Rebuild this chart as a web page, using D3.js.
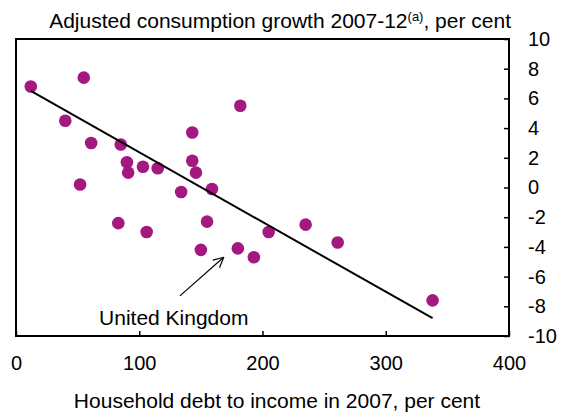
<!DOCTYPE html>
<html>
<head>
<meta charset="utf-8">
<script src="https://d3js.org/d3.v7.min.js"></script>
<style>
body { margin: 0; background: #fff; }
svg text { font-family: "Liberation Sans", Arial, sans-serif; fill: #000; }
.axis line { stroke: #000; stroke-width: 1.5px; }
.axis text { font-size: 20px; }
</style>
</head>
<body>
<svg width="561" height="412"></svg>
<script>
// household debt to income 2007 (per cent) vs adjusted consumption growth 2007-12 (per cent)
var debt   = [12, 55, 40, 61, 85, 143, 182, 90, 91, 103, 115, 143, 146, 159, 52, 134, 83, 155, 106, 205, 235, 261, 150, 180, 193, 338];
var growth = [6.8, 7.4, 4.5, 3.0, 2.9, 3.7, 5.5, 1.7, 1.0, 1.4, 1.3, 1.8, 1.0, -0.1, 0.2, -0.3, -2.4, -2.3, -3.0, -3.0, -2.5, -3.7, -4.2, -4.1, -4.7, -7.6];

// fitted line end points
var fitX = [12, 338];
var fitY = [6.5, -8.8];

var xTicks = [0, 100, 200, 300, 400];
var yTicks = [-10, -8, -6, -4, -2, 0, 2, 4, 6, 8, 10];

// United Kingdom note: arrow from label to point
var ukArrow = [[133, -7.3], [168.5, -4.7]];
var ukLabel = { x: 128, y: -9.25, text: "United Kingdom" };

var svg = d3.select("svg");

var x = d3.scaleLinear().domain([0, 400]).range([16, 509]);
var y = d3.scaleLinear().domain([-10, 10]).range([336, 39]);

// plain hyphen minus like the original
var fmt = function(d) { return String(d); };

svg.append("g")
	.attr("class", "axis")
	.attr("transform", "translate(0," + y(-10) + ")")
	.call(d3.axisBottom(x).tickValues(xTicks).tickFormat(fmt).tickSize(-5).tickPadding(20))
	.call(function(g) { g.select(".domain").remove(); });

svg.append("g")
	.attr("class", "axis")
	.attr("transform", "translate(" + x(400) + ",0)")
	.call(d3.axisRight(y).tickValues(yTicks).tickFormat(fmt).tickSize(-5).tickPadding(19))
	.call(function(g) { g.select(".domain").remove(); });

svg.append("rect")
	.attr("x", x(0))
	.attr("y", y(10))
	.attr("width", x(400) - x(0))
	.attr("height", y(-10) - y(10))
	.attr("fill", "none")
	.attr("stroke", "#000")
	.attr("stroke-width", 2);

var pts = debt.map(function(d, i) { return [d, growth[i]]; });

svg.append("g").selectAll("circle")
	.data(pts)
	.enter().append("circle")
	.attr("cx", function(d) { return x(d[0]); })
	.attr("cy", function(d) { return y(d[1]); })
	.attr("r", 6.3)
	.attr("fill", "#a3197f");

var line = d3.line()
	.x(function(d) { return x(d[0]); })
	.y(function(d) { return y(d[1]); });

svg.append("path")
	.datum(fitX.map(function(d, i) { return [d, fitY[i]]; }))
	.attr("d", line)
	.attr("fill", "none")
	.attr("stroke", "#000")
	.attr("stroke-width", 2);

svg.append("defs").append("marker")
	.attr("id", "head")
	.attr("viewBox", "0 0 12 12")
	.attr("refX", 11)
	.attr("refY", 6)
	.attr("markerWidth", 12)
	.attr("markerHeight", 12)
	.attr("markerUnits", "userSpaceOnUse")
	.attr("orient", "auto")
	.append("path")
	.attr("d", "M1,1 L11,6 L1,11")
	.attr("fill", "none")
	.attr("stroke", "#000")
	.attr("stroke-width", 1.2);

svg.append("path")
	.datum(ukArrow)
	.attr("d", line)
	.attr("stroke", "#000")
	.attr("stroke-width", 1.2)
	.attr("fill", "none")
	.attr("marker-end", "url(#head)");

svg.append("text")
	.attr("x", x(ukLabel.x))
	.attr("y", y(ukLabel.y))
	.attr("text-anchor", "middle")
	.style("font-size", "21px")
	.text(ukLabel.text);

var title = svg.append("text")
	.attr("x", 511)
	.attr("y", 28)
	.attr("text-anchor", "end")
	.style("font-size", "21px");
title.append("tspan").text("Adjusted consumption growth 2007-12");
title.append("tspan").attr("dy", -7).style("font-size", "13px").text("(a)");
title.append("tspan").attr("dy", 7).text(", per cent");

svg.append("text")
	.attr("x", 277)
	.attr("y", 408)
	.attr("text-anchor", "middle")
	.style("font-size", "21px")
	.text("Household debt to income in 2007, per cent");
</script>
</body>
</html>
